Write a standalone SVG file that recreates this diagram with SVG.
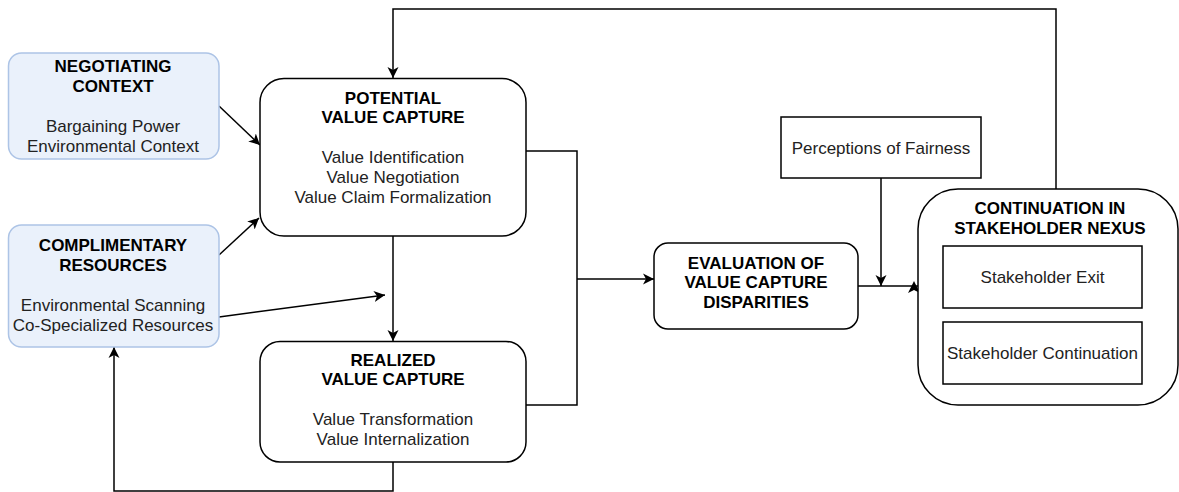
<svg xmlns="http://www.w3.org/2000/svg" width="1179" height="492" viewBox="0 0 1179 492">
<style>
.blue{fill:#eaf1fb;stroke:#adc4e6;stroke-width:1.5}
.box{fill:#ffffff;stroke:#000000;stroke-width:1.5}
.h{font-family:"Liberation Sans",Arial,sans-serif;font-size:17px;font-weight:bold;fill:#000;text-anchor:middle;dominant-baseline:central}
.t{font-family:"Liberation Sans",Arial,sans-serif;font-size:17px;fill:#222;text-anchor:middle;dominant-baseline:central}
.c{fill:none;stroke:#000;stroke-width:1.5}
</style>
<defs>
<marker id="ar" markerUnits="userSpaceOnUse" markerWidth="12" markerHeight="12" refX="11" refY="6" orient="auto" viewBox="0 0 12 12">
<path d="M0,0.5 L11,6 L0,11.5 L3,6 z" fill="#000"/>
</marker>
</defs>
<rect width="1179" height="492" fill="#ffffff"/>
<g id="connectors">
<path class="c" d="M1056,189 V9 H393 V78" marker-end="url(#ar)"/>
<path class="c" d="M219,106 L260,145" marker-end="url(#ar)"/>
<path class="c" d="M219,255 L259,218" marker-end="url(#ar)"/>
<path class="c" d="M219,317 L385,295" marker-end="url(#ar)"/>
<path class="c" d="M393,236 V341" marker-end="url(#ar)"/>
<path class="c" d="M526,151 H577 V405 H526"/>
<path class="c" d="M577,279 H654" marker-end="url(#ar)"/>
<path class="c" d="M881,178 V286" marker-end="url(#ar)"/>
<path class="c" d="M858,286 H918"/>
<path d="M914,281 L920,293 L914,290 L908,293 z" fill="#000"/>
<path class="c" d="M393,462 V491 H114 V347" marker-end="url(#ar)"/>
</g>
<g id="negotiating-context">
<rect class="blue" x="8.5" y="53" width="210.5" height="106" rx="13"/>
<text class="h" x="113" y="66">NEGOTIATING</text>
<text class="h" x="113" y="86">CONTEXT</text>
<text class="t" x="113" y="126">Bargaining Power</text>
<text class="t" x="113" y="146">Environmental Context</text>
</g>
<g id="complimentary-resources">
<rect class="blue" x="8.5" y="225" width="210.5" height="122" rx="13"/>
<text class="h" x="113" y="245">COMPLIMENTARY</text>
<text class="h" x="113" y="265">RESOURCES</text>
<text class="t" x="113" y="305">Environmental Scanning</text>
<text class="t" x="113" y="325">Co-Specialized Resources</text>
</g>
<g id="potential-value-capture">
<rect class="box" x="260" y="78.5" width="266" height="157.5" rx="24"/>
<text class="h" x="393" y="98">POTENTIAL</text>
<text class="h" x="393" y="117">VALUE CAPTURE</text>
<text class="t" x="393" y="157">Value Identification</text>
<text class="t" x="393" y="177">Value Negotiation</text>
<text class="t" x="393" y="197">Value Claim Formalization</text>
</g>
<g id="realized-value-capture">
<rect class="box" x="260" y="341.5" width="266" height="120.5" rx="20"/>
<text class="h" x="393" y="360">REALIZED</text>
<text class="h" x="393" y="379">VALUE CAPTURE</text>
<text class="t" x="393" y="419">Value Transformation</text>
<text class="t" x="393" y="439">Value Internalization</text>
</g>
<g id="evaluation">
<rect class="box" x="654" y="243" width="204" height="86" rx="14"/>
<text class="h" x="756" y="263">EVALUATION OF</text>
<text class="h" x="756" y="282">VALUE CAPTURE</text>
<text class="h" x="756" y="302">DISPARITIES</text>
</g>
<g id="perceptions-of-fairness">
<rect class="box" x="781" y="117" width="200" height="61"/>
<text class="t" x="881" y="148">Perceptions of Fairness</text>
</g>
<g id="continuation">
<rect class="box" x="918" y="189" width="260" height="216" rx="40"/>
<text class="h" x="1050" y="208">CONTINUATION IN</text>
<text class="h" x="1050" y="228">STAKEHOLDER NEXUS</text>
</g>
<g id="stakeholder-exit">
<rect class="box" x="943" y="246" width="199" height="62"/>
<text class="t" x="1042.5" y="277">Stakeholder Exit</text>
</g>
<g id="stakeholder-continuation">
<rect class="box" x="943" y="322" width="199" height="62"/>
<text class="t" x="1042.5" y="353">Stakeholder Continuation</text>
</g>
</svg>
